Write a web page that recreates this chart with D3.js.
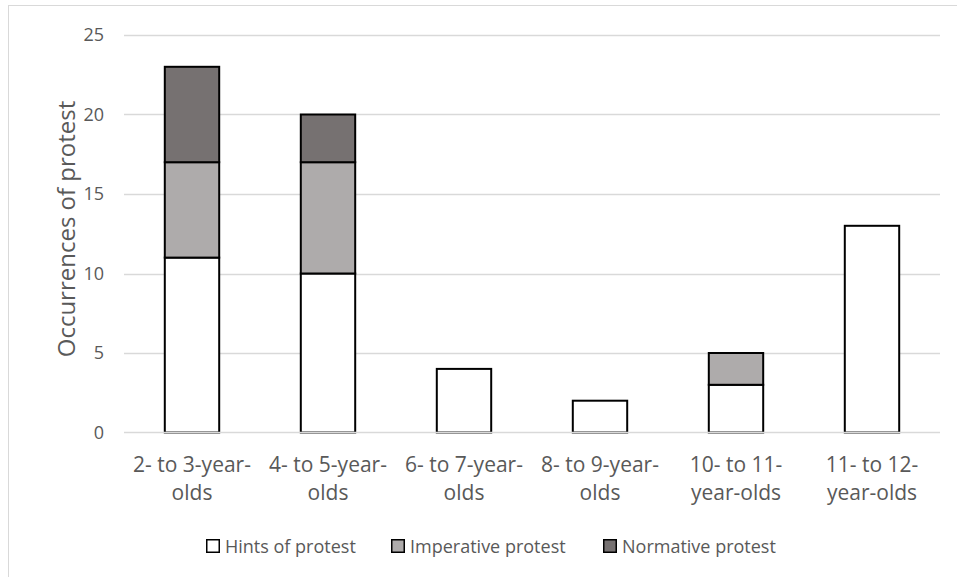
<!DOCTYPE html>
<html>
<head>
<meta charset="utf-8">
<script src="https://cdn.jsdelivr.net/npm/d3@7"></script>
<style>
  html, body { margin: 0; padding: 0; background: #fff; }
  svg { display: block; }
  text { font-family: "Open Sans", "Noto Sans", sans-serif; fill: #595959; }
</style>
</head>
<body>
<svg id="chart" width="957" height="577"></svg>
<script>
// Age groups (x categories) and the way each label breaks onto two lines
const categories = ["2- to 3-year-olds", "4- to 5-year-olds", "6- to 7-year-olds",
                    "8- to 9-year-olds", "10- to 11-year-olds", "11- to 12-year-olds"];
const categoryLines = [["2- to 3-year-", "olds"], ["4- to 5-year-", "olds"], ["6- to 7-year-", "olds"],
                       ["8- to 9-year-", "olds"], ["10- to 11-", "year-olds"], ["11- to 12-", "year-olds"]];

// Occurrences of each protest type per age group
const seriesNames = ["Hints of protest", "Imperative protest", "Normative protest"];
const hints      = [11, 10, 4, 2, 3, 13];
const imperative = [6, 7, 0, 0, 2, 0];
const normative  = [6, 3, 0, 0, 0, 0];
const yTicks = [0, 5, 10, 15, 20, 25];
const yTitle = "Occurrences of protest";

const colors = ["#ffffff", "#aeabab", "#767171"];

const svg = d3.select("#chart");

// chart frame (only the top and left edges fall inside the view)
svg.append("rect").attr("x", 8.5).attr("y", 5.5).attr("width", 960).attr("height", 600)
  .attr("fill", "none").attr("stroke", "#d9d9d9").attr("stroke-width", 1);

const plot = { left: 124, right: 940, top: 35, bottom: 432.5 };

const x = d3.scaleBand().domain(categories).range([plot.left, plot.right])
  .paddingInner(0.6).paddingOuter(0.3);
const y = d3.scaleLinear().domain([0, 25]).range([plot.bottom, plot.top]);

// horizontal gridlines
svg.append("g").selectAll("line").data(yTicks.filter(d => d > 0)).join("line")
  .attr("x1", plot.left).attr("x2", plot.right)
  .attr("y1", d => Math.round(y(d)) + 0.5).attr("y2", d => Math.round(y(d)) + 0.5)
  .attr("stroke", "#d9d9d9").attr("stroke-width", 1.5);

// y-axis tick labels
const yAxis = d3.axisLeft(y).tickValues(yTicks).tickSize(0).tickPadding(0).tickFormat(d3.format("d"));
svg.append("g").attr("transform", `translate(${plot.left - 20},0)`).call(yAxis)
  .call(g => g.select(".domain").remove())
  .selectAll("text").attr("font-size", 18).attr("fill", "#595959")
  .attr("font-family", "'Open Sans', 'Noto Sans', sans-serif");

// y-axis title
svg.append("text")
  .attr("transform", `translate(75,229) rotate(-90)`)
  .attr("text-anchor", "middle").attr("font-size", 24).text(yTitle);

// stacked bars
const rows = categories.map((c, i) => ({ cat: c, [seriesNames[0]]: hints[i],
  [seriesNames[1]]: imperative[i], [seriesNames[2]]: normative[i] }));
const stacked = d3.stack().keys(seriesNames)(rows);

const barW = 136 / 2.5;
const layers = svg.append("g").selectAll("g").data(stacked).join("g")
  .attr("fill", (d, i) => colors[i]);
layers.selectAll("rect").data(d => d.filter(s => s[1] - s[0] > 0)).join("rect")
  .attr("x", d => x(d.data.cat) + x.bandwidth() / 2 - barW / 2)
  .attr("width", barW)
  .attr("y", d => y(d[1]))
  .attr("height", d => y(d[0]) - y(d[1]))
  .attr("stroke", "#000").attr("stroke-width", 2);

// baseline at zero
svg.append("line").attr("x1", plot.left).attr("x2", plot.right)
  .attr("y1", y(0)).attr("y2", y(0)).attr("stroke", "#d9d9d9").attr("stroke-width", 1.5);

// category labels
const catG = svg.append("g");
categories.forEach((c, i) => {
  const cx = x(c) + x.bandwidth() / 2;
  const t = catG.append("text").attr("text-anchor", "middle").attr("font-size", 21)
    .attr("x", cx).attr("y", 472);
  categoryLines[i].forEach((ln, j) => {
    t.append("tspan").attr("x", cx).attr("dy", j === 0 ? 0 : 28).text(ln);
  });
});

// legend
const legendX = [206, 391, 603];
const lg = svg.append("g");
seriesNames.forEach((s, i) => {
  const g = lg.append("g").attr("transform", `translate(${legendX[i]},539)`);
  g.append("rect").attr("x", 0.75).attr("y", 0.75).attr("width", 12.5).attr("height", 12.5)
    .attr("fill", colors[i]).attr("stroke", "#000").attr("stroke-width", 1.5);
  g.append("text").attr("x", 19).attr("y", 13.5).attr("font-size", 18).text(s);
});
</script>
</body>
</html>
